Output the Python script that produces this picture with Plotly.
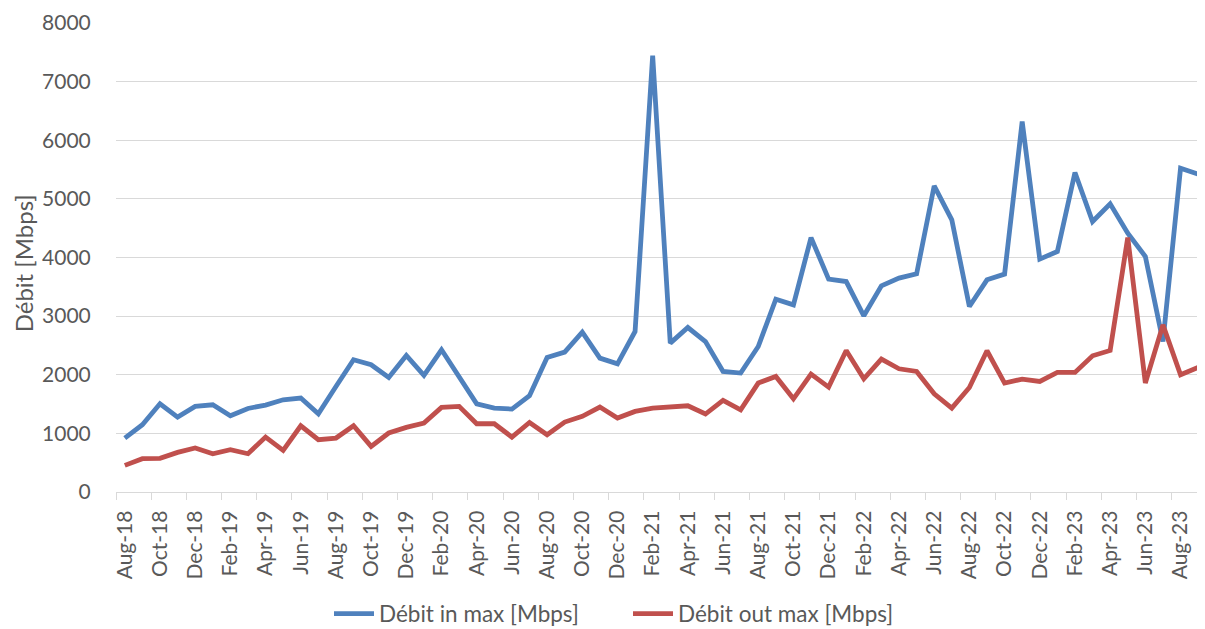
import plotly.graph_objects as go

# ---- data ----
month_names = ["Jan", "Feb", "Mar", "Apr", "May", "Jun",
               "Jul", "Aug", "Sep", "Oct", "Nov", "Dec"]
months = []
for i in range(62):
    m = (7 + i) % 12
    y = 18 + (7 + i) // 12
    months.append(f"{month_names[m]}-{y:02d}")

debit_in = [920, 1147, 1505, 1278, 1460, 1488, 1300, 1425, 1483, 1573,
            1602, 1335, 1800, 2255, 2170, 1954, 2329, 1988, 2426, 1971,
            1505, 1432, 1415, 1642, 2295, 2387, 2728, 2284, 2187, 2738,
            7443, 2540, 2806, 2567, 2056, 2029, 2482, 3290, 3193, 4340,
            3631, 3590, 3005, 3517, 3648, 3721, 5222, 4642, 3164, 3619,
            3716, 6318, 3972, 4102, 5449, 4613, 4915, 4415, 4017, 2567,
            5523, 5421]

debit_out = [454, 568, 575, 675, 750, 653, 721, 653, 937, 710,
             1130, 892, 920, 1130, 778, 1006, 1102, 1176, 1443, 1460,
             1164, 1164, 937, 1187, 977, 1193, 1290, 1449, 1261, 1375,
             1432, 1445, 1471, 1330, 1562, 1403, 1858, 1971, 1590, 2011,
             1790, 2414, 1931, 2267, 2102, 2056, 1676, 1432, 1783, 2409,
             1858, 1926, 1886, 2039, 2039, 2324, 2414, 4340, 1858, 2850,
             2000, 2125]

series_names = ["Débit in max [Mbps]", "Débit out max [Mbps]"]
series_colors = ["#4F81BD", "#C0504D"]

x_idx = list(range(len(months)))
tick_vals = x_idx[::2]
tick_text = months[::2]

FONT = "Lato, 'Liberation Sans', sans-serif"
TXT = "#595959"
GRID = "#D9D9D9"

# The page adds an 8 px body margin, so the figure is sized/offset for it.
W, H = 1197, 621

fig = go.Figure()
for name, vals, col in zip(series_names, [debit_in, debit_out], series_colors):
    fig.add_trace(go.Scatter(
        x=x_idx, y=vals, name=name, mode="lines",
        line=dict(color=col, width=4.8),
    ))

fig.update_layout(
    width=W, height=H,
    margin=dict(l=108, r=0, t=15, b=136.7, autoexpand=False),
    paper_bgcolor="white", plot_bgcolor="white",
    font=dict(family=FONT, color=TXT, size=21),
    showlegend=True,
    legend=dict(
        orientation="h", xref="container", yref="container",
        x=321 / W, xanchor="left", y=1 - 606 / H, yanchor="middle",
        font=dict(size=22.5, color=TXT), itemwidth=40,
        entrywidth=244, entrywidthmode="pixels",
    ),
    xaxis=dict(
        range=[-0.5, 61.39], showgrid=False, zeroline=False,
        automargin=False,
        showline=True, linecolor=GRID, linewidth=1.3,
        tickmode="array", tickvals=tick_vals, ticktext=tick_text,
        tickangle=-90, ticks="outside", ticklen=9,
        tickcolor="rgba(0,0,0,0)",
        tickfont=dict(size=21, color=TXT),
        minor=dict(tick0=-0.5, dtick=2, ticks="outside", ticklen=7,
                   tickcolor=GRID, tickwidth=1.3, showgrid=False),
    ),
    yaxis=dict(
        range=[0, 8000], dtick=1000, showgrid=True, gridcolor=GRID,
        gridwidth=1.3, zeroline=False, showline=False, automargin=False,
        ticks="outside", ticklen=20, tickcolor="rgba(0,0,0,0)",
        tickfont=dict(size=21, color=TXT),
    ),
    annotations=[dict(
        text="Débit [Mbps]", textangle=-90, showarrow=False,
        xref="paper", yref="paper", x=(23 - 116) / 1089, y=0.4875,
        xanchor="center", yanchor="middle",
        font=dict(size=24, color=TXT),
    )],
)

fig.write_html("out.html")
